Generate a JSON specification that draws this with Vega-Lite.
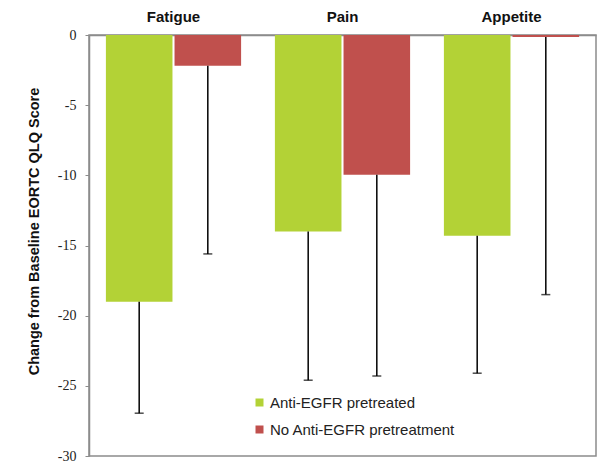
{
  "$schema": "https://vega.github.io/schema/vega-lite/v6.json",
  "width": 507,
  "height": 421,
  "autosize": "none",
  "padding": {"left": 89, "top": 35, "right": 4, "bottom": 14},
  "background": "white",
  "config": {
    "view": {"stroke": "#8c8c8c", "strokeWidth": 1.5},
    "axis": {"grid": false}
  },
  "data": {
    "values": [
      {"category": "Fatigue", "group": "Anti-EGFR pretreated", "value": -19.0, "lower": -26.95},
      {"category": "Fatigue", "group": "No Anti-EGFR pretreatment", "value": -2.2, "lower": -15.6},
      {"category": "Pain", "group": "Anti-EGFR pretreated", "value": -14.0, "lower": -24.6},
      {"category": "Pain", "group": "No Anti-EGFR pretreatment", "value": -9.95, "lower": -24.3},
      {"category": "Appetite", "group": "Anti-EGFR pretreated", "value": -14.3, "lower": -24.1},
      {"category": "Appetite", "group": "No Anti-EGFR pretreatment", "value": -0.15, "lower": -18.5}
    ]
  },
  "encoding": {
    "x": {
      "field": "category",
      "type": "nominal",
      "sort": ["Fatigue", "Pain", "Appetite"],
      "scale": {"paddingInner": 0.2, "paddingOuter": 0.1},
      "axis": {
        "orient": "top",
        "title": null,
        "labelAngle": 0,
        "labelFont": "Liberation Sans",
        "labelFontWeight": "bold",
        "labelFontSize": 15,
        "labelColor": "#111",
        "labelPadding": 11,
        "ticks": false,
        "domainColor": "#8c8c8c",
        "domainWidth": 1.5
      }
    },
    "xOffset": {
      "field": "group",
      "type": "nominal",
      "sort": ["Anti-EGFR pretreated", "No Anti-EGFR pretreatment"],
      "scale": {"paddingInner": 0.03}
    }
  },
  "layer": [
    {
      "mark": {"type": "bar"},
      "encoding": {
        "y": {
          "field": "value",
          "type": "quantitative",
          "scale": {"domain": [-30, 0], "nice": false},
          "axis": {
            "title": "Change from Baseline EORTC QLQ Score",
            "titleFont": "Liberation Sans",
            "titleFontWeight": "bold",
            "titleFontSize": 14.5,
            "titleColor": "#111",
            "titlePadding": 16,
            "titleY": 196,
            "values": [-30, -25, -20, -15, -10, -5, 0],
            "labelExpr": "'' + datum.value",
            "labelFont": "Liberation Serif",
            "labelFontSize": 14,
            "labelColor": "#222",
            "labelPadding": 9,
            "tickSize": 4,
            "tickColor": "#8c8c8c",
            "domainColor": "#8c8c8c",
            "domainWidth": 1.5
          }
        },
        "color": {
          "field": "group",
          "type": "nominal",
          "sort": ["Anti-EGFR pretreated", "No Anti-EGFR pretreatment"],
          "scale": {"range": ["#b3d236", "#c0504d"]},
          "legend": {
            "title": null,
            "orient": "none",
            "legendX": 163,
            "legendY": 360,
            "symbolType": "square",
            "symbolSize": 64,
            "symbolStrokeWidth": 0,
            "labelFont": "Liberation Sans",
            "labelFontSize": 15,
            "labelColor": "#222",
            "labelOffset": 3,
            "labelLimit": 0,
            "rowPadding": 11
          }
        }
      }
    },
    {
      "mark": {"type": "rule", "color": "black", "strokeWidth": 1.5},
      "encoding": {
        "y": {"field": "value", "type": "quantitative"},
        "y2": {"field": "lower"}
      }
    },
    {
      "mark": {"type": "tick", "color": "black", "thickness": 1.5, "size": 9, "orient": "horizontal"},
      "encoding": {
        "y": {"field": "lower", "type": "quantitative"}
      }
    }
  ]
}
